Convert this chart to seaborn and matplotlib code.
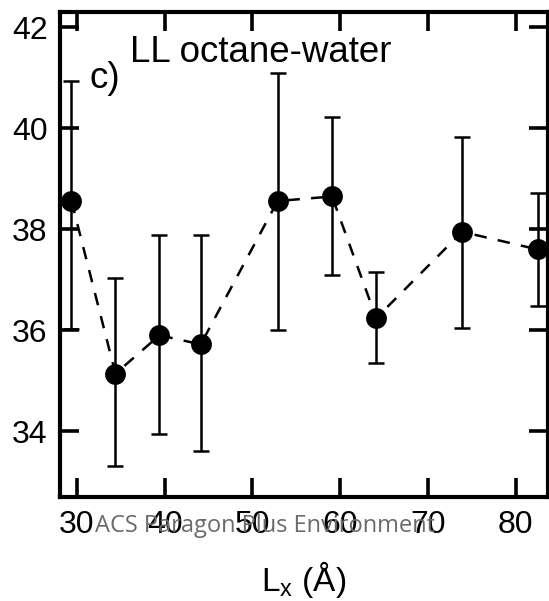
import numpy as np
import pandas as pd
import seaborn as sns
import matplotlib.pyplot as plt

# data
lx = [29.37, 34.38, 39.40, 44.10, 52.87, 59.07, 64.11, 73.90, 82.53]
gamma = [38.56, 35.14, 35.90, 35.72, 38.56, 38.65, 36.24, 37.95, 37.60]
err_low = [2.53, 1.83, 1.96, 2.12, 2.56, 1.56, 0.89, 1.90, 1.12]
err_high = [2.37, 1.89, 1.99, 2.17, 2.54, 1.58, 0.92, 1.87, 1.11]
x_ticks = [30, 40, 50, 60, 70, 80]
y_ticks = [34, 36, 38, 40, 42]

df = pd.DataFrame({"Lx": lx, "gamma": gamma})

sns.set_style("ticks")
plt.rcParams['font.family'] = ['Liberation Sans', 'DejaVu Sans']
plt.rcParams['mathtext.default'] = 'regular'
plt.rcParams['text.color'] = 'black'
plt.rcParams['axes.labelcolor'] = 'black'

fig = plt.figure(figsize=(5.49, 6.01), dpi=100)
ax = fig.add_axes([0.1093, 0.1725, 0.889, 0.808])

# error bars first, then dashed line with markers on top
ax.errorbar(df["Lx"], df["gamma"], yerr=[err_low, err_high], fmt='none',
            ecolor='black', elinewidth=1.8, capsize=5.8, capthick=1.8, zorder=2)
sns.lineplot(data=df, x="Lx", y="gamma", ax=ax, color='black', linewidth=1.8,
             marker='o', markersize=15, markeredgewidth=0, zorder=3)
ax.lines[-1].set_dashes((5, 4.5))

ax.set_xlim(28.06, 83.7)
ax.set_ylim(32.69, 42.31)
ax.set_xticks(x_ticks)
ax.set_yticks(y_ticks)

for s in ax.spines.values():
    s.set_linewidth(3)
    s.set_color('black')
ax.tick_params(direction='in', length=14, width=2.6, labelsize=23,
               top=True, right=True, colors='black')
ax.tick_params(axis='x', pad=9)
ax.tick_params(axis='y', pad=9)

ax.set_xlabel('L$_x$ (Å)', fontsize=24, labelpad=14)
ax.set_ylabel('')

ax.text(31.42, 40.80, 'c)', fontsize=26.5, ha='left', va='baseline', color='black')
ax.text(36.09, 41.32, 'LL octane-water', fontsize=26.5, ha='left', va='baseline',
        color='black')

fig.text(0.482, 0.1256, 'ACS Paragon Plus Environment', fontsize=17,
         family='Open Sans', color='#6a6a6a', ha='center', va='center', zorder=10)

fig.savefig('out.png', dpi=100)
